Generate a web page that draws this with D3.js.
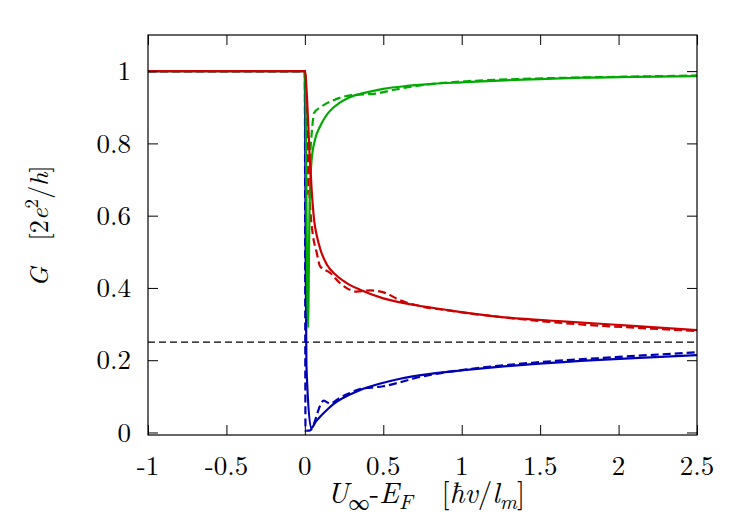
<!DOCTYPE html>
<html>
<head>
<meta charset="utf-8">
<script src="https://cdn.jsdelivr.net/npm/d3@7"></script>
<style>
  html, body { margin: 0; padding: 0; background: #fff; }
</style>
</head>
<body>
<svg id="chart" width="747" height="523"></svg>
<script>
// ---------- data ----------
const xTicks = [-1, -0.5, 0, 0.5, 1, 1.5, 2, 2.5];
const xTickLabels = ["-1", "-0.5", "0", "0.5", "1", "1.5", "2", "2.5"];
const yTicks = [0, 0.2, 0.4, 0.6, 0.8, 1];
const yTickLabels = ["0", "0.2", "0.4", "0.6", "0.8", "1"];
const refLevel = 0.25;

const redSolidX = [-1, 0, 0.015, 0.03, 0.045, 0.06, 0.076, 0.1, 0.14, 0.2, 0.28, 0.352, 0.5, 0.712, 0.924, 1.242, 1.667, 2.09, 2.5];
const redSolidY = [1, 1, 0.915, 0.77, 0.66, 0.585, 0.545, 0.505, 0.465, 0.435, 0.41, 0.395, 0.371, 0.352, 0.338, 0.32, 0.307, 0.295, 0.283];

const redDashX = [-1, 0, 0.01, 0.02, 0.035, 0.05, 0.076, 0.097, 0.16, 0.225, 0.331, 0.417, 0.52, 0.6, 0.712, 0.924, 1.3, 1.667, 2.1, 2.5];
const redDashY = [1, 1, 0.92, 0.754, 0.616, 0.55, 0.497, 0.46, 0.442, 0.413, 0.39, 0.393, 0.385, 0.367, 0.352, 0.337, 0.317, 0.302, 0.29, 0.281];

const greenSolidX = [-1, 0, 0.02, 0.03, 0.043, 0.064, 0.096, 0.13, 0.16, 0.22, 0.287, 0.38, 0.5, 0.65, 0.82, 1.0, 1.24, 1.5, 1.77, 2.1, 2.5];
const greenSolidY = [1, 1, 0.29, 0.62, 0.754, 0.809, 0.846, 0.873, 0.89, 0.912, 0.928, 0.94, 0.951, 0.959, 0.965, 0.969, 0.974, 0.978, 0.982, 0.984, 0.986];

const greenDashX = [-1, 0, 0.015, 0.03, 0.06, 0.1, 0.18, 0.29, 0.45, 0.6, 0.8, 1.03, 1.35, 1.7, 2.1, 2.5];
const greenDashY = [1, 1, 0.66, 0.75, 0.885, 0.9, 0.919, 0.933, 0.938, 0.951, 0.964, 0.972, 0.978, 0.982, 0.985, 0.988];

const blueSolidX = [-1, 0, 0.005, 0.01, 0.04, 0.07, 0.1, 0.14, 0.18, 0.25, 0.35, 0.47, 0.6, 0.8, 1.03, 1.25, 1.45, 1.88, 2.2, 2.5];
const blueSolidY = [1, 1, 0.5, 0.185, 0.012, 0.03, 0.045, 0.062, 0.078, 0.097, 0.117, 0.134, 0.148, 0.162, 0.173, 0.182, 0.189, 0.201, 0.208, 0.214];

const blueDashX = [-1, 0, 0.004, 0.03, 0.12, 0.16, 0.22, 0.28, 0.35, 0.42, 0.5, 0.6, 0.7, 0.82, 1.1, 1.45, 2.0, 2.5];
const blueDashY = [1, 1, 0.005, 0.005, 0.088, 0.08, 0.095, 0.108, 0.12, 0.124, 0.128, 0.138, 0.15, 0.161, 0.178, 0.193, 0.209, 0.222];

// ---------- layout ----------
const svg = d3.select("#chart");
const pLeft = 148, pRight = 697, pTop = 35, pBottom = 435;
const x = d3.scaleLinear().domain([-1, 2.5]).range([pLeft, pRight]);
const y = d3.scaleLinear().domain([-0.007, 1.1]).range([pBottom, pTop]);
const tickLen = 10;
const tickFont = 27;
const titleFont = 29;
const serif = "Latin Modern Roman, Liberation Serif, serif";

const pts = (xs, ys) => xs.map((v, i) => [v, ys[i]]);
const line = d3.line().x(d => x(d[0])).y(d => y(d[1])).curve(d3.curveMonotoneX);

svg.append("defs").append("clipPath").attr("id", "clip")
  .append("rect").attr("x", pLeft).attr("y", pTop).attr("width", pRight - pLeft).attr("height", pBottom - pTop);

const plot = svg.append("g").attr("clip-path", "url(#clip)");

// reference line
plot.append("path")
  .attr("d", d3.line().x(d => x(d[0])).y(d => y(d[1]))([[-1, refLevel], [2.5, refLevel]]))
  .attr("fill", "none").attr("stroke", "#000").attr("stroke-width", 1.1)
  .attr("stroke-dasharray", "7,4");

const series = [
  { xs: blueDashX, ys: blueDashY, color: "#0000b4", dash: "8,4" },
  { xs: greenDashX, ys: greenDashY, color: "#00aa00", dash: "8,4" },
  { xs: redDashX, ys: redDashY, color: "#cc0000", dash: "8,4" },
  { xs: blueSolidX, ys: blueSolidY, color: "#0000b4", dash: null },
  { xs: greenSolidX, ys: greenSolidY, color: "#00aa00", dash: null },
  { xs: redSolidX, ys: redSolidY, color: "#cc0000", dash: null }
];
series.forEach(s => {
  plot.append("path")
    .attr("d", line(pts(s.xs, s.ys)))
    .attr("fill", "none")
    .attr("stroke", s.color)
    .attr("stroke-width", 2.2)
    .attr("stroke-linejoin", "round")
    .attr("stroke-dasharray", s.dash);
});

// axes (ticks inward on all four sides)
const axB = d3.axisBottom(x).tickValues(xTicks).tickSize(-tickLen).tickFormat("");
const axT = d3.axisTop(x).tickValues(xTicks).tickSize(-tickLen).tickFormat("");
const axL = d3.axisLeft(y).tickValues(yTicks).tickSize(-tickLen).tickFormat("");
const axR = d3.axisRight(y).tickValues(yTicks).tickSize(-tickLen).tickFormat("");
[[axB, `translate(0,${pBottom})`], [axT, `translate(0,${pTop})`],
 [axL, `translate(${pLeft},0)`], [axR, `translate(${pRight},0)`]].forEach(([ax, tr]) => {
  const g = svg.append("g").attr("transform", tr).call(ax);
  g.select(".domain").remove();
  g.selectAll("line").attr("stroke", "#000").attr("stroke-width", 1);
});

// frame
svg.append("rect").attr("x", pLeft).attr("y", pTop)
  .attr("width", pRight - pLeft).attr("height", pBottom - pTop)
  .attr("fill", "none").attr("stroke", "#000").attr("stroke-width", 1.2);

// tick labels
svg.append("g").selectAll("text").data(xTicks).join("text")
  .attr("x", d => x(d)).attr("y", 475)
  .attr("text-anchor", "middle").attr("font-size", tickFont)
  .attr("font-family", serif)
  .text((d, i) => xTickLabels[i]);

svg.append("g").selectAll("text").data(yTicks).join("text")
  .attr("x", 131).attr("y", d => y(d))
  .attr("dy", "0.34em")
  .attr("text-anchor", "end").attr("font-size", tickFont)
  .attr("font-family", serif)
  .text((d, i) => yTickLabels[i]);

// x-axis title: U∞-E_F  [ħv/l_m]
const xt = svg.append("text").attr("x", 426).attr("y", 503)
  .attr("text-anchor", "middle").attr("font-size", titleFont)
  .attr("font-family", serif);
xt.append("tspan").attr("font-style", "italic").text("U");
xt.append("tspan").attr("dy", 7).attr("font-size", 21).text("∞");
xt.append("tspan").attr("dy", -7).text("-");
xt.append("tspan").attr("font-style", "italic").text("E");
xt.append("tspan").attr("dy", 6).attr("font-size", 21).attr("font-style", "italic").text("F");
xt.append("tspan").attr("dy", -6).text("\u2003[");
xt.append("tspan").attr("font-style", "italic").text("ħv");
xt.append("tspan").text("/");
xt.append("tspan").attr("font-style", "italic").text("l");
xt.append("tspan").attr("dy", 6).attr("font-size", 21).attr("font-style", "italic").text("m");
xt.append("tspan").attr("dy", -6).text("]");

// y-axis title: G  [2e²/h]
const yt = svg.append("text")
  .attr("transform", "translate(48,226) rotate(-90)")
  .attr("text-anchor", "middle").attr("font-size", 26)
  .attr("font-family", serif);
yt.append("tspan").attr("font-style", "italic").text("G");
yt.append("tspan").text("\u2003[2");
yt.append("tspan").attr("font-style", "italic").text("e");
yt.append("tspan").attr("dy", -10).attr("font-size", 19).text("2");
yt.append("tspan").attr("dy", 10).text("/");
yt.append("tspan").attr("font-style", "italic").text("h");
yt.append("tspan").text("]");
</script>
</body>
</html>
